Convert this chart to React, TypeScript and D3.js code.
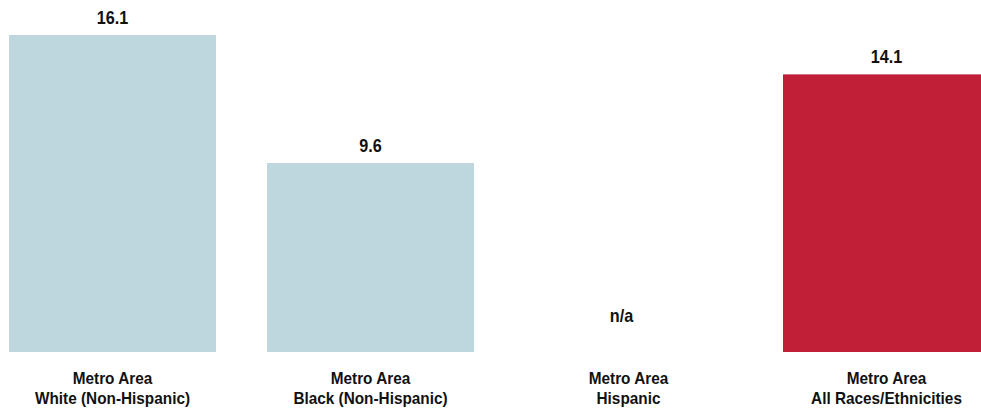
import React from "react";
import * as d3 from "d3";

const categories = ["white", "black", "hispanic", "all"];
const labelLine1 = ["Metro Area", "Metro Area", "Metro Area", "Metro Area"];
const labelLine2 = ["White (Non-Hispanic)", "Black (Non-Hispanic)", "Hispanic", "All Races/Ethnicities"];
const values: (number | null)[] = [16.1, 9.6, null, 14.1];
const highlight = [false, false, false, true];

const W = 981;
const H = 411;
const FONT = "'Liberation Sans', Arial, sans-serif";

function T({ x, y, size, sx, children }: { x: number; y: number; size: number; sx: number; children: React.ReactNode }) {
  return (
    <text
      transform={`translate(${x},${y}) scale(${sx},1)`}
      textAnchor="middle"
      fontWeight="bold"
      fontSize={size}
      fill="#111"
    >
      {children}
    </text>
  );
}

export default function App() {
  const x = d3
    .scaleBand<string>()
    .domain(categories)
    .range([9, 990])
    .paddingInner(51 / 258)
    .paddingOuter(0);
  const y = d3.scaleLinear().domain([0, 16.1]).range([352, 35]);
  const fmt = d3.format(".1f");

  return (
    <svg
      width={W}
      height={H}
      style={{ position: "absolute", left: 0, top: 0, background: "#fff" }}
      fontFamily={FONT}
    >
      {categories.map((c, i) => {
        const v = values[i];
        const x0 = x(c)!;
        const cx = x0 + x.bandwidth() / 2;
        return (
          <g key={c}>
            {v !== null && (
              <rect
                x={x0}
                y={y(v)}
                width={x.bandwidth()}
                height={y(0) - y(v)}
                fill={highlight[i] ? "#c11e38" : "#bed7de"}
              />
            )}
            <T x={v === null ? cx - 7 : cx} y={v === null ? y(0) - 30 : y(v) - 11} size={18} sx={0.9}>
              {v === null ? "n/a" : fmt(v)}
            </T>
            <T x={cx} y={384} size={16.5} sx={0.93}>
              {labelLine1[i]}
            </T>
            <T x={cx} y={404} size={16.5} sx={0.93}>
              {labelLine2[i]}
            </T>
          </g>
        );
      })}
    </svg>
  );
}
